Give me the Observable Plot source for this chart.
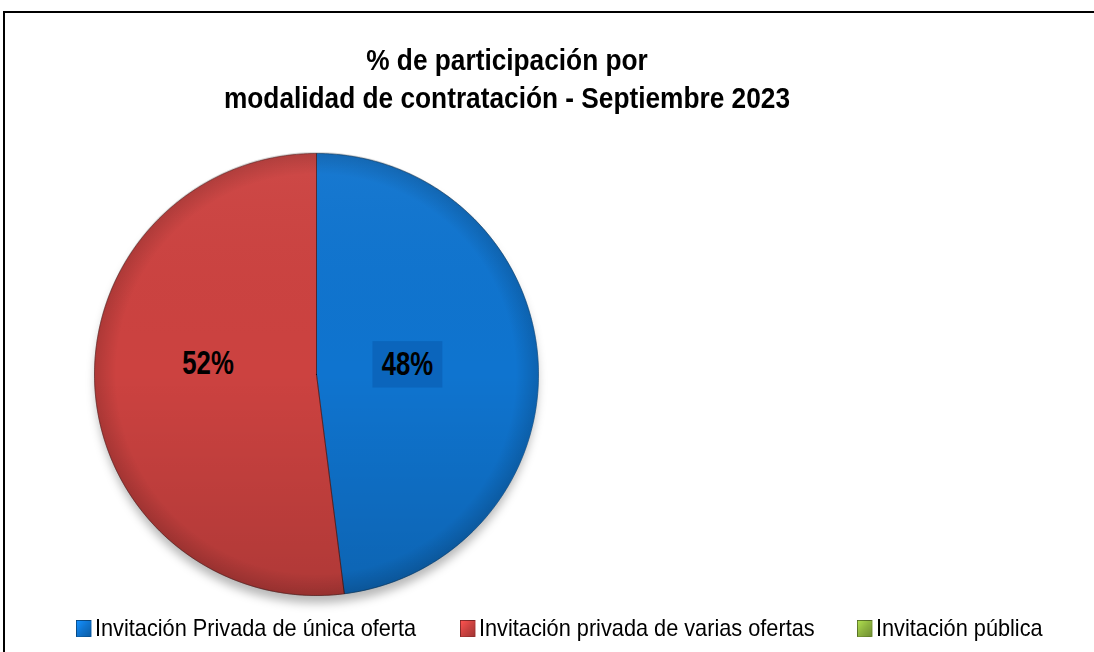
<!DOCTYPE html>
<html><head><meta charset="utf-8">
<script src="https://cdn.jsdelivr.net/npm/d3@7"></script>
<script src="https://cdn.jsdelivr.net/npm/@observablehq/plot@0.6"></script>
<style>
html,body{margin:0;padding:0;background:#fff;overflow:hidden;width:1094px;height:652px;}
#wrap{position:relative;width:1094px;height:652px;overflow:hidden;font-family:"Liberation Sans Narrow","Arial Narrow","Liberation Sans",Arial,sans-serif;}
#ftop{position:absolute;left:3px;top:11px;width:1200px;height:2px;background:#000;}
#fleft{position:absolute;left:3px;top:11px;width:1.5px;height:700px;background:#000;}
#title{position:absolute;left:0;width:1014px;top:41px;text-align:center;font-weight:bold;font-size:30px;line-height:38px;color:#000;transform:scaleX(0.875);transform-origin:507px 0;}
#legend{position:absolute;top:613px;left:0;width:1094px;height:30px;font-size:24px;color:#000;}
.li{position:absolute;top:0;white-space:nowrap;line-height:30px;transform:scaleX(0.905);transform-origin:0 0;}
.sw{display:inline-block;width:17px;height:17px;margin-right:4px;vertical-align:-1px;border:1px solid rgba(0,0,0,0.3);box-sizing:border-box;}
#chart{position:absolute;left:0;top:0;width:1094px;height:652px;overflow:hidden;}
#chart svg{display:block;}
</style></head>
<body><div id="wrap"><div id="chart"></div><div id="ftop"></div><div id="fleft"></div><div id="title">% de participación por<br>modalidad de contratación - Septiembre 2023</div><div id="legend"></div></div>
<script>
const categories = ["Invitación Privada de única oferta", "Invitación privada de varias ofertas", "Invitación pública"];
const values = [48, 52, 0];
const labels = ["48%", "52%", "0%"];
const colors = ["#0f74cf", "#cc4240", "#8db33f"];

const data = categories.map((c, i) => ({category: c, value: values[i], label: labels[i]}));
const arcs = d3.pie().sort(null).value(d => d.value)(data);

// polygon points for each slice (unit circle, y up, angle 0 at 12 o'clock clockwise)
const pts = [];
for (const a of arcs) {
  if (a.endAngle - a.startAngle <= 0) continue;
  const c = a.data.category;
  pts.push({category: c, x: 0, y: 0});
  const n = Math.max(2, Math.ceil((a.endAngle - a.startAngle) / 0.01));
  for (let k = 0; k <= n; k++) {
    const t = a.startAngle + (a.endAngle - a.startAngle) * k / n;
    pts.push({category: c, x: Math.sin(t), y: Math.cos(t)});
  }
  pts.push({category: c, x: 0, y: 0});
}

const labelPts = arcs.filter(a => a.data.value > 0).map(a => {
  const m = (a.startAngle + a.endAngle) / 2;
  const first = a.data.category === categories[0];
  const r = first ? 0.41 : 0.49;
  return {category: a.data.category, label: a.data.label, x: r * Math.sin(m), y: r * Math.cos(m) + (first ? 0.018 : 0.08)};
});
const boxPts = labelPts.filter(d => d.category === categories[0]);

const plot = Plot.plot({
  width: 1094, height: 652, margin: 0,
  x: {domain: [-1, 1], range: [94, 538], axis: null},
  y: {domain: [-1, 1], range: [595, 153], axis: null},
  color: {domain: categories, range: colors},
  marks: [
    Plot.dot([{x: 0, y: -0.035}], {x: "x", y: "y", r: 221, fill: "#000", fillOpacity: 0.28}),
    Plot.line(pts, {x: "x", y: "y", z: "category", fill: "category", stroke: "category", strokeWidth: 0.5, curve: "linear-closed"}),
    Plot.line(pts, {x: "x", y: "y", z: "category", stroke: "#000", strokeOpacity: 0.3, strokeWidth: 1, curve: "linear-closed"}),
    Plot.rect(boxPts, {x1: d => d.x - 0.155, x2: d => d.x + 0.16, y1: d => d.y - 0.105, y2: d => d.y + 0.105, fill: "#0a63b8", fillOpacity: 0.85}),
    Plot.text(labelPts, {x: "x", y: "y", text: "label", fontSize: 33, fontWeight: "bold", fill: "#000", fontFamily: "'Liberation Sans',Arial,sans-serif"})
  ]
});

const svg = d3.select(plot);
const defs = svg.insert("defs", ":first-child");
const f = defs.append("filter").attr("id", "blur").attr("x", "-20%").attr("y", "-20%").attr("width", "140%").attr("height", "140%");
f.append("feGaussianBlur").attr("stdDeviation", 5);
const g = defs.append("radialGradient").attr("id", "shade").attr("gradientUnits", "userSpaceOnUse")
  .attr("cx", 316).attr("cy", 374).attr("r", 222);
g.append("stop").attr("offset", "0.9").attr("stop-color", "#000").attr("stop-opacity", 0);
g.append("stop").attr("offset", "1").attr("stop-color", "#000").attr("stop-opacity", 0.15);
const lg = defs.append("linearGradient").attr("id", "vshade").attr("x1", 0).attr("y1", 0).attr("x2", 0).attr("y2", 1);
lg.append("stop").attr("offset", "0").attr("stop-color", "#fff").attr("stop-opacity", 0.04);
lg.append("stop").attr("offset", "0.5").attr("stop-color", "#000").attr("stop-opacity", 0);
lg.append("stop").attr("offset", "1").attr("stop-color", "#000").attr("stop-opacity", 0.14);
svg.select("g[aria-label='dot']").attr("filter", "url(#blur)");
document.getElementById("chart").appendChild(plot);

// shading overlays using the plot's scales
const sx = plot.scale("x"), sy = plot.scale("y");
const cx = sx.apply(0), cy = sy.apply(0), R = sx.apply(1) - sx.apply(0);
const lines = svg.selectAll("g[aria-label='line']").nodes();
const after = lines[lines.length - 1];
const ov = document.createElementNS("http://www.w3.org/2000/svg", "g");
after.parentNode.insertBefore(ov, after.nextSibling);
d3.select(ov).append("circle").attr("cx", cx).attr("cy", cy).attr("r", R).attr("fill", "url(#vshade)");
d3.select(ov).append("circle").attr("cx", cx).attr("cy", cy).attr("r", R).attr("fill", "url(#shade)");

// condense the label text horizontally (narrow face look)
svg.selectAll("g[aria-label='text'] text").each(function() {
  const b = this.getBoundingClientRect();
  const sr = plot.getBoundingClientRect();
  const mx = b.x - sr.x + b.width / 2, my = b.y - sr.y + b.height / 2;
  const w = document.createElementNS("http://www.w3.org/2000/svg", "g");
  w.setAttribute("transform", `translate(${mx},${my}) scale(0.78,1) translate(${-mx},${-my})`);
  this.parentNode.insertBefore(w, this);
  w.appendChild(this);
});

// legend
const lpos = [76, 460, 857];
const leg = document.getElementById("legend");
categories.forEach((c, i) => {
  const d = document.createElement("div");
  d.className = "li";
  d.style.left = lpos[i] + "px";
  d.innerHTML = `<span class="sw" style="background:linear-gradient(135deg, ${d3.color(colors[i]).brighter(0.6)}, ${colors[i]} 50%, ${d3.color(colors[i]).darker(0.6)})"></span>${c}`;
  leg.appendChild(d);
});
</script></body></html>
